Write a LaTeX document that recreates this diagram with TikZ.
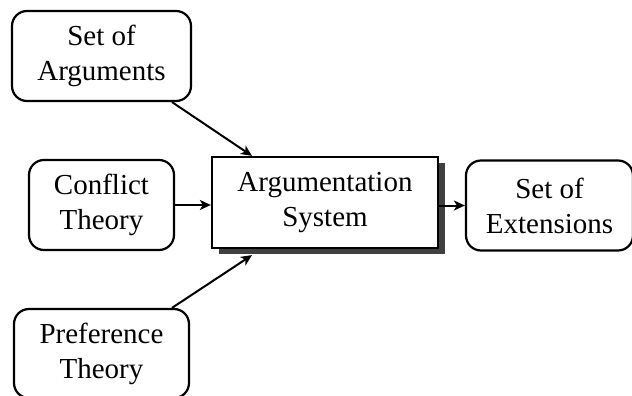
\documentclass[tikz,border=0pt]{standalone}
\usepackage{fontspec}
\setmainfont{Liberation Serif}
\usetikzlibrary{positioning,shadows,arrows.meta}

\tikzset{
  input/.style={draw, line width=1.1pt, rounded corners=7.5pt, align=center,
    minimum height=45pt, font=\fontsize{14.5}{17.5}\selectfont},
  system/.style={draw, line width=1.1pt, fill=white, align=center,
    minimum width=113pt, minimum height=45.5pt, font=\fontsize{14.5}{17.5}\selectfont,
    drop shadow={shadow xshift=3.5pt, shadow yshift=-3pt, fill=black!75, opacity=1}},
  flow/.style={-{Stealth[length=5.5pt,width=5pt,inset=1.5pt]}, line width=1pt}
}

\begin{document}
\begin{tikzpicture}
  \useasboundingbox (-162.5pt, -96.75pt) rectangle (153.5pt, 101.25pt);
  \node[system] (argsys) at (0, 0) {Argumentation\\System};
  \node[input, minimum width=89.5pt] (arguments) at (-111.75pt, 73.25pt) {Set of\\Arguments};
  \node[input, minimum width=72.5pt] (conflict) at (-111.75pt, -1.25pt) {Conflict\\Theory};
  \node[input, minimum width=87.5pt, minimum height=44.5pt] (preference) at (-111.75pt, -75.5pt) {Preference\\Theory};
  \node[input, minimum width=83.5pt] (extensions) at (112.25pt, -1.5pt) {Set of\\Extensions};
  \draw[flow] ([xshift=35.25pt]arguments.south) -- ([xshift=-36.5pt]argsys.north);
  \draw[flow] (conflict.east) -- (conflict.east -| argsys.west);
  \draw[flow] ([xshift=35.25pt]preference.north) -- ([xshift=-36.5pt, yshift=-3pt]argsys.south);
  \draw[flow] (argsys.east |- extensions.west) -- (extensions.west);
\end{tikzpicture}
\end{document}
